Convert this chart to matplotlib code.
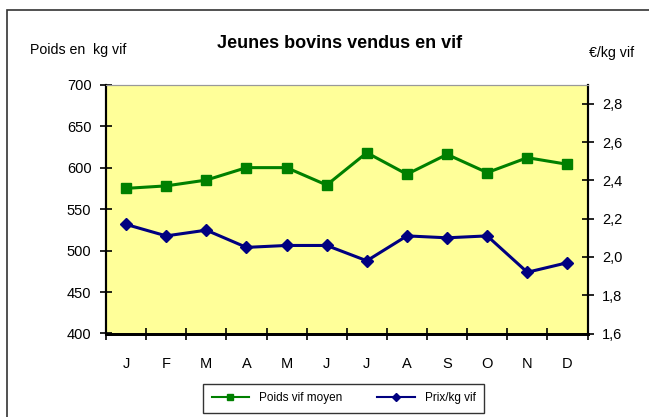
import matplotlib
matplotlib.use("Agg")
import matplotlib.pyplot as plt
import numpy as np
from matplotlib.patches import Rectangle

# ── Data ──────────────────────────────────────────────────────────────────────
MONTHS = ["J", "F", "M", "A", "M", "J", "J", "A", "S", "O", "N", "D"]
POIDS = [575, 578, 585, 600, 600, 579, 618, 592, 616, 594, 612, 604]
PRIX = [2.17, 2.11, 2.14, 2.05, 2.06, 2.06, 1.98, 2.11, 2.10, 2.11, 1.92, 1.97]

LEFT_TICKS = [400, 450, 500, 550, 600, 650, 700]
RIGHT_TICKS = [1.6, 1.8, 2.0, 2.2, 2.4, 2.6, 2.8]

plt.rcParams["font.family"] = ["Liberation Sans", "DejaVu Sans"]

GREEN = "#008000"
NAVY = "#000080"

fig = plt.figure(figsize=(6.49, 4.17), dpi=100)
fig.patch.set_facecolor("white")

# outer chart frame (runs off the right and bottom edges)
fig.patches.append(Rectangle((7 / 649, -0.1), 1.2, 0.976 + 0.1,
                             transform=fig.transFigure, fill=False,
                             edgecolor="#333333", lw=1.2, clip_on=False))

ax = fig.add_axes([106 / 649, 1 - 333.5 / 417, 481.5 / 649, 248.8 / 417])
ax.set_facecolor("#FFFF99")
ax2 = ax.twinx()

x = np.arange(len(MONTHS))
l1, = ax.plot(x, POIDS, color=GREEN, lw=2.2, marker="s", ms=7.5,
              label="Poids vif moyen")
l2, = ax2.plot(x, PRIX, color=NAVY, lw=2.2, marker="D", ms=6.5,
               label="Prix/kg vif")

ax.set_xlim(-0.5, len(MONTHS) - 0.5)
ax.set_ylim(400, 700)
ax2.set_ylim(1.6, 2.9)

ax.set_yticks(LEFT_TICKS)
ax.set_yticklabels([str(v) for v in LEFT_TICKS])
ax2.set_yticks(RIGHT_TICKS)
ax2.set_yticklabels([f"{v:.1f}".replace(".", ",") for v in RIGHT_TICKS])

ax.set_xticks(x)
ax.set_xticklabels(MONTHS)
ax.set_xticks(np.arange(-0.5, len(MONTHS)), minor=True)
ax.tick_params(axis="x", which="major", length=0, pad=17, labelsize=10.5)
ax.tick_params(axis="x", which="minor", direction="inout", length=9, width=1.2)
ax.tick_params(axis="y", direction="inout", length=9, width=1.2, labelsize=10.5, pad=6)
ax2.tick_params(axis="y", direction="inout", length=9, width=1.2, labelsize=10.5, pad=6)

for a in (ax, ax2):
    a.spines["top"].set_color("#999999")
    a.spines["top"].set_linewidth(0.8)
    a.spines["left"].set_linewidth(1.5)
    a.spines["right"].set_linewidth(1.5)
    a.spines["bottom"].set_linewidth(2.0)

fig.text(340 / 649, 1 - 44 / 417, "Jeunes bovins vendus en vif", ha="center",
         va="center", fontsize=13, fontweight="bold")
fig.text(30 / 649, 1 - 50 / 417, "Poids en  kg vif", ha="left", va="center",
         fontsize=10.2)
fig.text(612 / 649, 1 - 53 / 417, "€/kg vif", ha="center", va="center",
         fontsize=10.2)

leg = fig.legend(handles=[l1, l2], loc="center", ncol=2,
                 bbox_to_anchor=(343.5 / 649, 1 - 398.5 / 417),
                 fontsize=8.5, frameon=True, fancybox=False, edgecolor="black",
                 handlelength=3.2, columnspacing=3.0, borderpad=0.7,
                 markerscale=0.65)
leg.get_frame().set_linewidth(1.0)
for h in leg.legend_handles:
    h.set_linewidth(1.5)

fig.savefig("out.png", dpi=100)
